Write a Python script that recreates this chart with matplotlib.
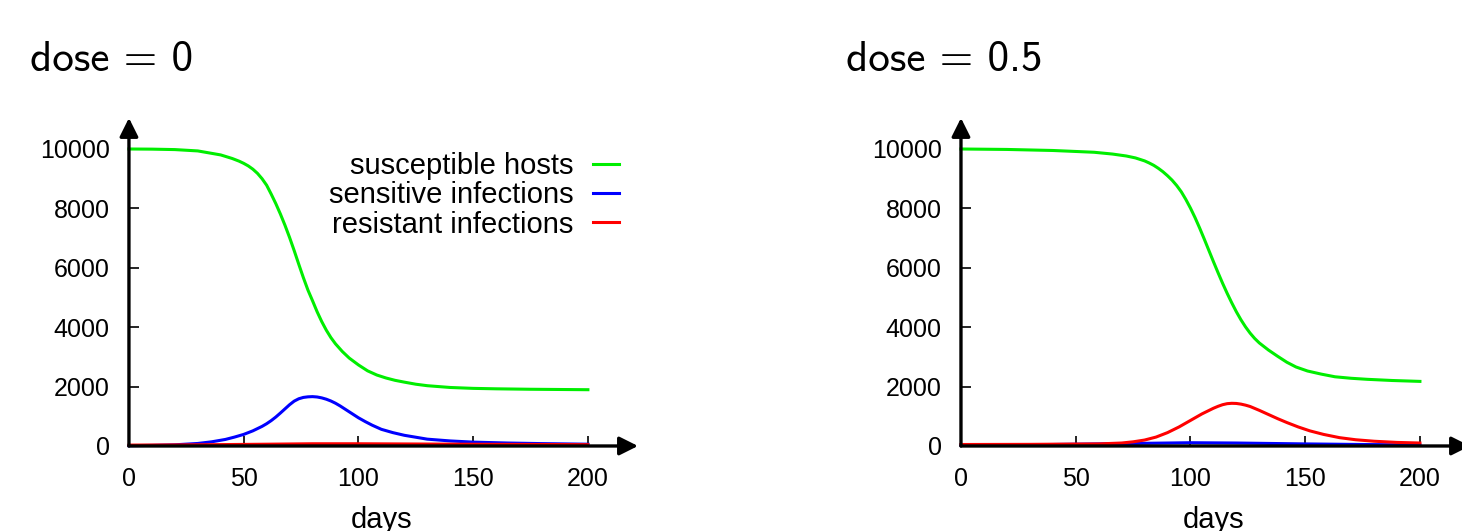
import matplotlib
matplotlib.use("Agg")
import matplotlib.pyplot as plt

plt.rcParams['font.family'] = ['Liberation Sans', 'DejaVu Sans']

### valeurs

# dose = 0
d0_days_s = [0, 10, 20, 30, 40, 45, 48, 50, 52, 54, 56, 58, 60, 62, 64, 66, 68, 70, 72,
             74, 76, 78, 80, 82, 84, 86, 88, 90, 93, 96, 100, 104, 108, 112, 116, 120,
             125, 130, 140, 150, 160, 175, 200]
d0_susc = [10000, 9995, 9980, 9935, 9800, 9680, 9590, 9517, 9430, 9320, 9180, 9000, 8780,
           8480, 8160, 7810, 7430, 7020, 6580, 6120, 5670, 5250, 4890, 4520, 4190, 3900,
           3650, 3440, 3180, 2960, 2730, 2530, 2390, 2290, 2210, 2150, 2080, 2030, 1970,
           1940, 1925, 1910, 1895]
d0_days_i = [0, 10, 20, 30, 36, 42, 46, 50, 54, 58, 60, 62, 64, 66, 68, 70, 72, 74, 76,
             78, 80, 82, 84, 86, 88, 90, 92, 94, 96, 98, 100, 103, 106, 110, 115, 120,
             130, 140, 150, 165, 180, 200]
d0_sens = [10, 20, 40, 85, 140, 220, 300, 390, 510, 660, 750, 855, 975, 1110, 1250,
           1390, 1510, 1590, 1635, 1655, 1662, 1650, 1620, 1575, 1515, 1440, 1350, 1250,
           1150, 1050, 950, 820, 700, 561, 450, 360, 230, 170, 130, 100, 80, 60]
d0_days_r = [0, 30, 60, 80, 100, 130, 160, 200]
d0_res = [30, 40, 60, 75, 75, 65, 55, 45]

# dose = 0.5
d5_days_s = [0, 20, 40, 58, 66, 72, 76, 80, 82, 84, 86, 88, 90, 92, 94, 96, 98, 100,
             102, 104, 106, 108, 110, 112, 114, 116, 118, 120, 122, 124, 126, 128, 130,
             134, 138, 142, 146, 151, 157, 163, 170, 177, 188, 200]
d5_susc = [10000, 9985, 9950, 9890, 9830, 9765, 9700, 9600, 9530, 9450, 9350, 9235, 9100,
           8950, 8770, 8560, 8300, 8010, 7690, 7340, 6970, 6590, 6210, 5840, 5480, 5140,
           4820, 4520, 4250, 4010, 3800, 3620, 3470, 3230, 3020, 2820, 2660, 2525, 2420,
           2330, 2280, 2245, 2205, 2175]
d5_days_i = [0, 40, 70, 100, 120, 150, 175, 200]
d5_sens = [30, 50, 80, 110, 100, 70, 50, 35]
d5_days_r = [0, 30, 60, 70, 75, 80, 85, 90, 95, 100, 105, 110, 112, 114, 116, 118, 120,
             122, 124, 126, 130, 134, 138, 142, 147, 152, 158, 165, 172, 180, 190, 200]
d5_res = [50, 55, 70, 100, 140, 200, 300, 450, 640, 860, 1080, 1270, 1335, 1390, 1425,
          1437, 1432, 1410, 1375, 1330, 1200, 1060, 920, 790, 640, 510, 390, 280, 210,
          160, 120, 100]

xticks = [0, 50, 100, 150, 200]
yticks = [0, 2000, 4000, 6000, 8000, 10000]

vert = '#00ee00'
bleu = '#0000ff'
rouge = '#ff0000'

fig = plt.figure(figsize=(14.62, 5.31), dpi=100)

def panneau(left, titre, title_x, ds, s, di, i, dr, r, legende):
    ax = fig.add_axes([left, 0.1601, 0.3461, 0.6177])
    ax.plot(ds, s, color=vert, lw=2.2, label="susceptible hosts", clip_on=False)
    ax.plot(di, i, color=bleu, lw=2.2, label="sensitive infections", clip_on=False)
    ax.plot(dr, r, color=rouge, lw=2.2, label="resistant infections", clip_on=False)
    ax.set_xlim(0, 220.5)
    ax.set_ylim(0, 11044)
    for sp in ax.spines.values():
        sp.set_visible(False)
    # axes avec flèches
    ax.annotate('', xy=(1.006, 0), xytext=(0, 0), xycoords='axes fraction',
                arrowprops=dict(arrowstyle='-|>', lw=2.4, color='black',
                                mutation_scale=28, shrinkA=0, shrinkB=0),
                annotation_clip=False)
    ax.annotate('', xy=(0, 1), xytext=(0, 0), xycoords='axes fraction',
                arrowprops=dict(arrowstyle='-|>', lw=2.4, color='black',
                                mutation_scale=28, shrinkA=0, shrinkB=0),
                annotation_clip=False)
    ax.set_xticks(xticks)
    ax.set_yticks(yticks)
    ax.tick_params(direction='in', length=7, width=1.2, labelsize=18)
    ax.tick_params(axis='x', pad=15)
    ax.tick_params(axis='y', pad=14)
    ax.set_xlabel("days", fontsize=21, labelpad=11)
    fig.text(title_x, 0.887, titre, fontsize=31, va='center', ha='left',
             family='cmss10')
    if legende:
        ax.legend(loc='upper right', bbox_to_anchor=(0.968, 0.897), frameon=False,
                  markerfirst=False, fontsize=21, handlelength=0.9, handletextpad=0.65,
                  labelspacing=0.05, borderpad=0, borderaxespad=0)
    return ax

panneau(0.0882, 'dose = 0', 0.0205,
        d0_days_s, d0_susc, d0_days_i, d0_sens, d0_days_r, d0_res, True)
panneau(0.6573, 'dose = 0.5', 0.579,
        d5_days_s, d5_susc, d5_days_i, d5_sens, d5_days_r, d5_res, False)

fig.savefig("out.png", dpi=100)
